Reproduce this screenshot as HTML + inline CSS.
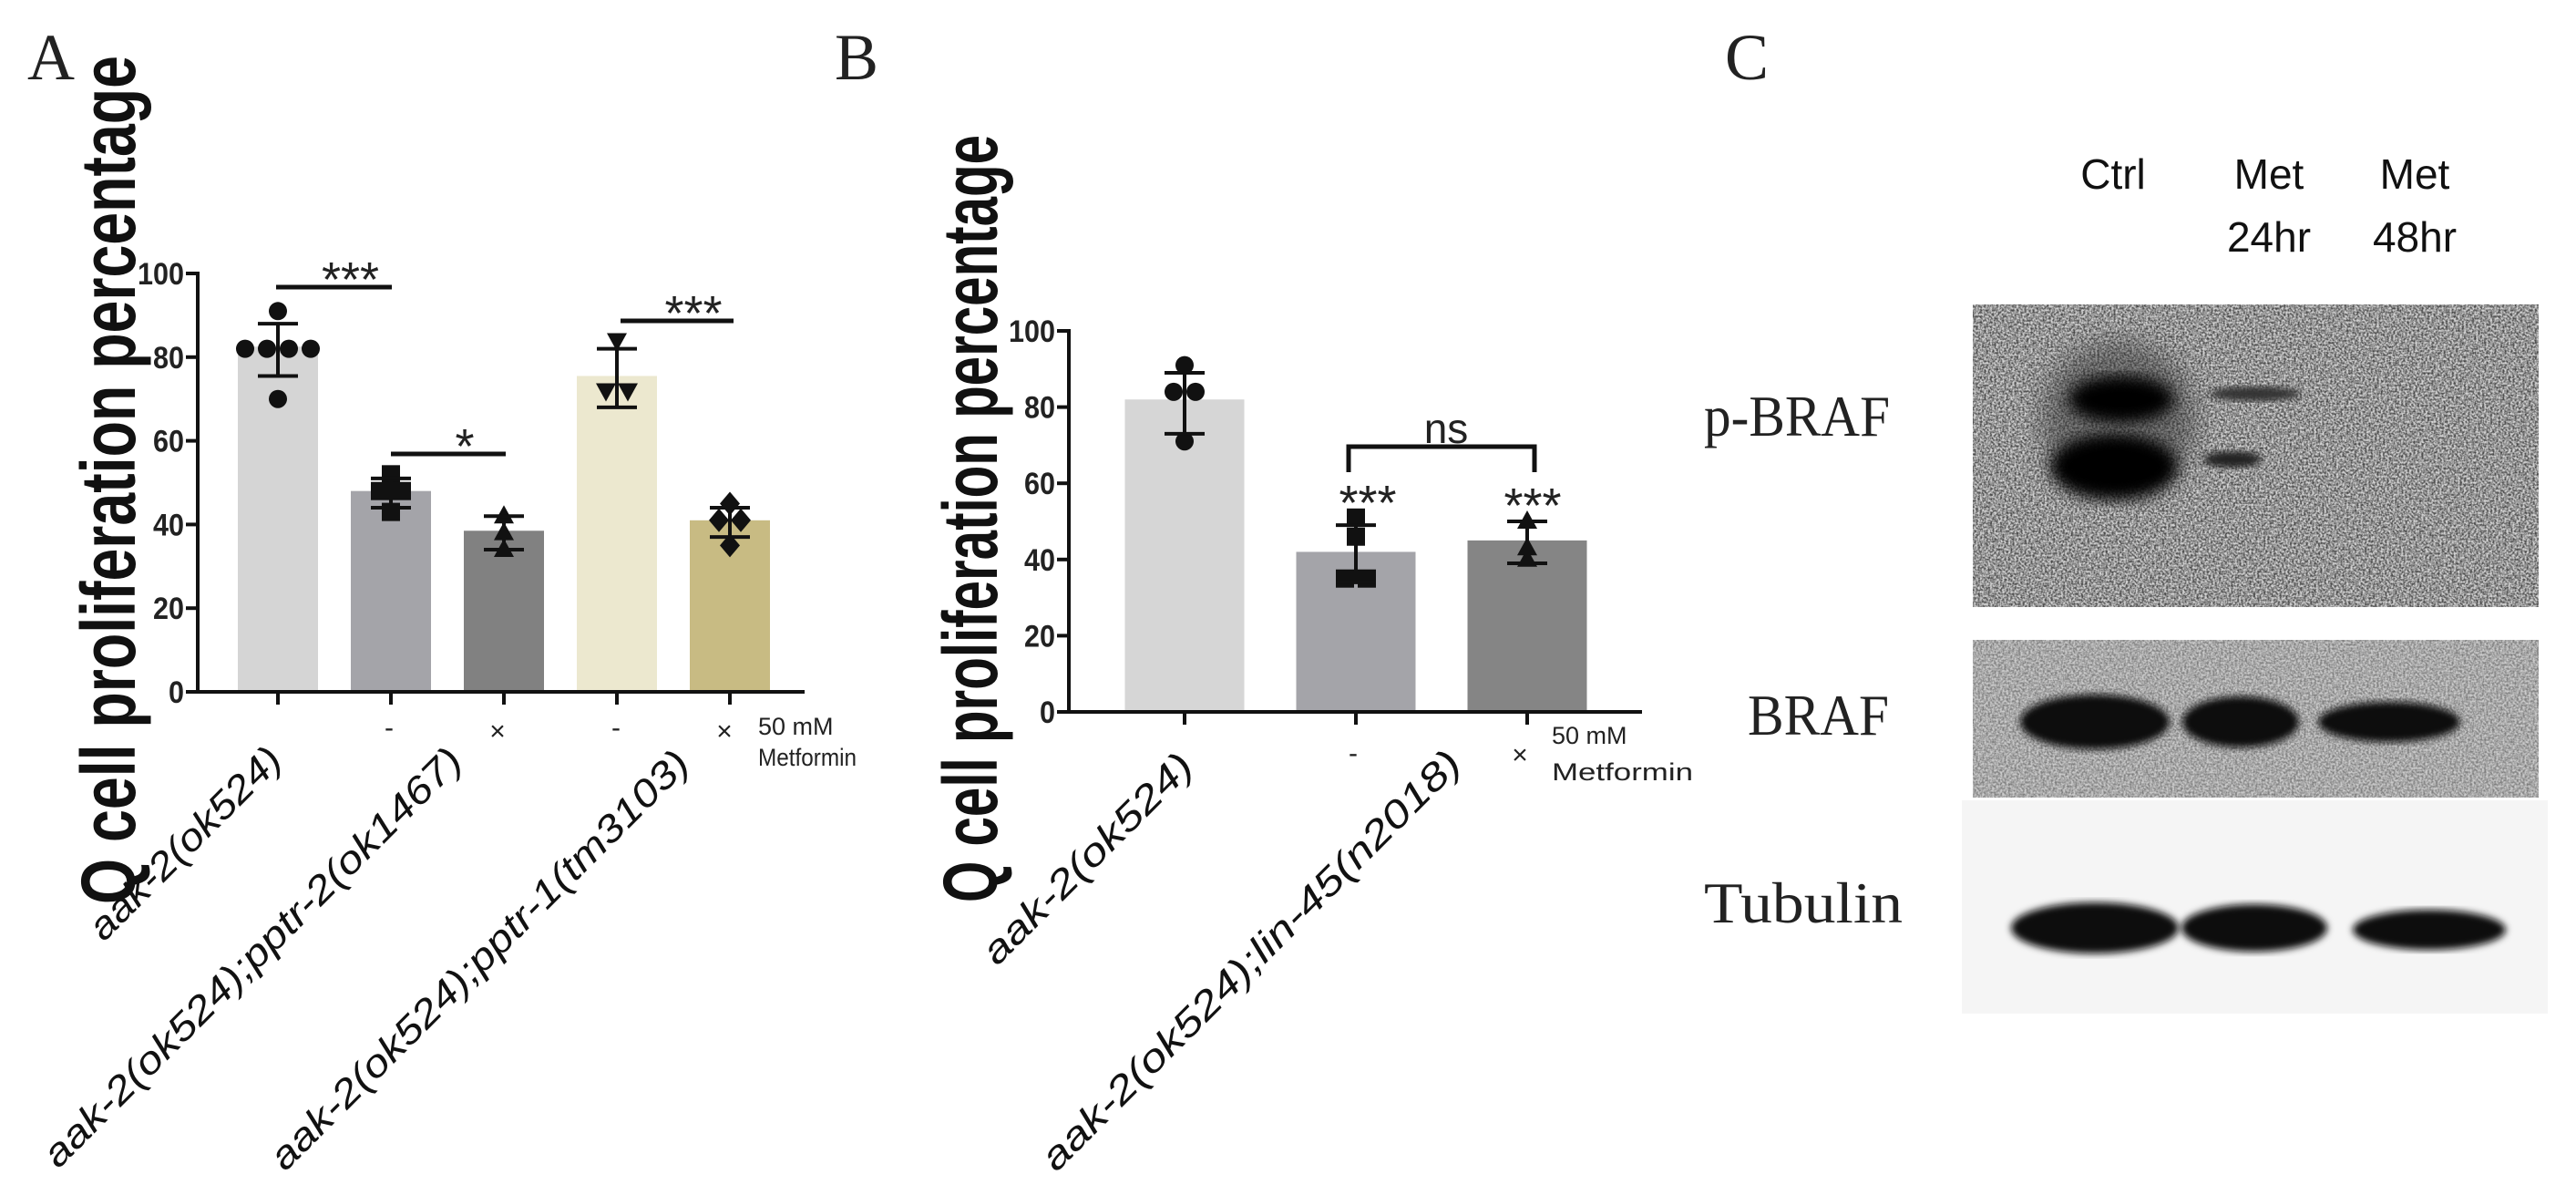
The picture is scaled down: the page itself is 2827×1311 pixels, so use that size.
<!DOCTYPE html>
<html><head><meta charset="utf-8"><style>
html,body{margin:0;padding:0;background:#fff;}
svg{display:block;}
text{font-family:"Liberation Sans",sans-serif;}
.serif{font-family:"Liberation Serif",serif;}
</style></head><body>
<svg id="fig" width="2827" height="1311" viewBox="0 0 2827 1311" xmlns="http://www.w3.org/2000/svg">
<defs>
  <filter id="noiseA" x="0" y="0" width="100%" height="100%" color-interpolation-filters="sRGB">
    <feTurbulence type="fractalNoise" baseFrequency="0.45" numOctaves="2" seed="3" result="t"/>
    <feColorMatrix in="t" type="matrix" values="2.2 0 0 0 -0.55  2.2 0 0 0 -0.55  2.2 0 0 0 -0.55  0 0 0 0 1"/>
  </filter>
  <filter id="blur8"><feGaussianBlur stdDeviation="8"/></filter>
  <filter id="blur4"><feGaussianBlur stdDeviation="4"/></filter>
  <filter id="blur14"><feGaussianBlur stdDeviation="14"/></filter>
</defs>
<g id="panelA"></g>
<g id="panelB"></g>
<g id="panelC">
  <text class="serif" x="1893" y="87" font-size="72" fill="#222">C</text>
  <text x="2319" y="207" font-size="46" text-anchor="middle" fill="#111">Ctrl</text>
  <text x="2490" y="207" font-size="46" text-anchor="middle" fill="#111">Met</text>
  <text x="2490" y="276" font-size="46" text-anchor="middle" fill="#111">24hr</text>
  <text x="2650" y="207" font-size="46" text-anchor="middle" fill="#111">Met</text>
  <text x="2650" y="276" font-size="46" text-anchor="middle" fill="#111">48hr</text>
  <text class="serif" x="1870" y="478" font-size="64" textLength="204" lengthAdjust="spacingAndGlyphs" fill="#222">p-BRAF</text>
  <text class="serif" x="1918" y="806" font-size="64" textLength="155" lengthAdjust="spacingAndGlyphs" fill="#222">BRAF</text>
  <text class="serif" x="1870" y="1012" font-size="64" textLength="218" lengthAdjust="spacingAndGlyphs" fill="#222">Tubulin</text>
  <g>
    <rect x="2165" y="334" width="621" height="332" fill="#a0a0a0"/>
    <rect x="2165" y="334" width="621" height="332" filter="url(#noiseA)" opacity="0.55"/>
    <ellipse cx="2325" cy="460" rx="85" ry="85" fill="#333" opacity="0.5" filter="url(#blur14)"/>
    <ellipse cx="2328" cy="438" rx="58" ry="26" fill="#050505" filter="url(#blur8)"/>
    <ellipse cx="2320" cy="512" rx="70" ry="36" fill="#050505" filter="url(#blur8)"/>
    <ellipse cx="2475" cy="432" rx="50" ry="8" fill="#333" filter="url(#blur4)"/>
    <ellipse cx="2450" cy="504" rx="32" ry="9" fill="#222" filter="url(#blur4)"/>
  </g>
  <g>
    <rect x="2165" y="702" width="621" height="173" fill="#b5b5b5"/>
    <rect x="2165" y="702" width="621" height="173" filter="url(#noiseA)" opacity="0.3"/>
    <ellipse cx="2299" cy="792" rx="82" ry="30" fill="#080808" filter="url(#blur4)"/>
    <ellipse cx="2459" cy="792" rx="64" ry="28" fill="#080808" filter="url(#blur4)"/>
    <ellipse cx="2622" cy="792" rx="78" ry="22" fill="#080808" filter="url(#blur4)"/>
  </g>
  <g>
    <rect x="2153" y="878" width="643" height="234" fill="#f5f5f5"/>
    <ellipse cx="2299" cy="1018" rx="92" ry="28" fill="#0a0a0a" filter="url(#blur4)"/>
    <ellipse cx="2474" cy="1018" rx="80" ry="26" fill="#0a0a0a" filter="url(#blur4)"/>
    <ellipse cx="2666" cy="1020" rx="84" ry="22" fill="#0a0a0a" filter="url(#blur4)"/>
  </g>
</g>
</svg>
<script>
// ---- Panel A data ----
const catsA = ["aak-2(ok524)", "pptr-2 -", "pptr-2 ×", "pptr-1 -", "pptr-1 ×"];
const meansA = [82.5, 48, 38.5, 75.5, 41];
const errHiA = [88, 51, 42, 82, 44];
const errLoA = [75.5, 44, 34, 68, 37];
const pointsA = [[91, 82, 82, 82, 82, 70], [52, 48, 48, 43], [42, 38, 34], [84, 72, 72], [45, 41, 41, 35]];
const markersA = ["circle", "square", "triangle", "tridown", "diamond"];
const colorsA = ["#d5d5d5", "#a4a4a9", "#818181", "#ece8cf", "#c8bb83"];
const ticksA = [0, 20, 40, 60, 80, 100];
// ---- Panel B data ----
const catsB = ["aak-2(ok524)", "lin-45 -", "lin-45 ×"];
const meansB = [82, 42, 45];
const errHiB = [89, 49, 50];
const errLoB = [73, 34, 39];
const pointsB = [[91, 84, 84, 71], [51, 46, 35, 35], [50, 43, 40]];
const markersB = ["circle", "square", "triangle"];
const colorsB = ["#d6d6d6", "#a4a4a9", "#858585"];
const ticksB = [0, 20, 40, 60, 80, 100];

const NS = "http://www.w3.org/2000/svg";
function mk(parent, tag, attrs, txt) {
  const e = document.createElementNS(NS, tag);
  for (const k in attrs) e.setAttribute(k, attrs[k]);
  if (txt !== undefined) e.textContent = txt;
  parent.appendChild(e);
  return e;
}
function marker(g, type, cx, cy, s) {
  let e;
  if (type === "circle") e = mk(g, "circle", {cx: cx, cy: cy, r: s});
  else if (type === "square") e = mk(g, "rect", {x: cx - s, y: cy - s, width: 2 * s, height: 2 * s});
  else if (type === "triangle") e = mk(g, "polygon", {points: `${cx},${cy - s * 1.2} ${cx - s * 1.1},${cy + s * 0.8} ${cx + s * 1.1},${cy + s * 0.8}`});
  else if (type === "tridown") e = mk(g, "polygon", {points: `${cx},${cy + s * 1.2} ${cx - s * 1.1},${cy - s * 0.8} ${cx + s * 1.1},${cy - s * 0.8}`});
  else e = mk(g, "polygon", {points: `${cx},${cy - s * 1.3} ${cx + s * 1.1},${cy} ${cx},${cy + s * 1.3} ${cx - s * 1.1},${cy}`});
  e.setAttribute("fill", "#111");
  
  
}
function drawChart(g, cfg) {
  const y = v => cfg.y0 - (v / 100) * (cfg.y0 - cfg.y100);
  const x = i => cfg.xStart + i * cfg.step;
  cfg.ticks.forEach(t => {
    const l = mk(g, "line", {x1: cfg.ax - 13, x2: cfg.ax, y1: y(t), y2: y(t), stroke: "#111", "stroke-width": 4});
    
    
    const tx = mk(g, "text", {x: cfg.ax - 15, y: y(t) + 12, "font-size": 34, "font-weight": "bold", "text-anchor": "end", fill: "#222", textLength: String(t).length * 17, lengthAdjust: "spacingAndGlyphs"}, String(t));
    
    
  });
  cfg.means.forEach((m, i) => {
    const b = mk(g, "rect", {x: x(i) - cfg.bw / 2, y: y(m), width: cfg.bw, height: cfg.y0 - y(m), fill: cfg.colors[i]});
    
    
  });
  cfg.points.forEach((pts, i) => {
    const used = {};
    pts.forEach(v => { const k = Math.round(v / 3); used[k] = (used[k] || 0) + 1; });
    const seen = {};
    pts.forEach(v => {
      const k = Math.round(v / 3);
      const n = used[k]; const j = seen[k] || 0; seen[k] = j + 1;
      const off = n > 1 ? (j - (n - 1) / 2) * 24 : 0;
      marker(g, cfg.markers[i], x(i) + off, y(v), 10);
    });
  });
  cfg.means.forEach((m, i) => {
    const eg = mk(g, "g", {stroke: "#111", "stroke-width": 4});
    
    
    mk(eg, "line", {x1: x(i), x2: x(i), y1: y(cfg.hi[i]), y2: y(cfg.lo[i])});
    mk(eg, "line", {x1: x(i) - 22, x2: x(i) + 22, y1: y(cfg.hi[i]), y2: y(cfg.hi[i])});
    mk(eg, "line", {x1: x(i) - 22, x2: x(i) + 22, y1: y(cfg.lo[i]), y2: y(cfg.lo[i])});
  });
  const ya = mk(g, "line", {x1: cfg.ax, x2: cfg.ax, y1: y(100) - 2, y2: cfg.y0 + 2, stroke: "#111", "stroke-width": 4});
  
  
  const xa = mk(g, "line", {x1: cfg.ax, x2: cfg.axEnd, y1: cfg.y0, y2: cfg.y0, stroke: "#111", "stroke-width": 4});
  
  
  cfg.means.forEach((m, i) => {
    const t = mk(g, "line", {x1: x(i), x2: x(i), y1: cfg.y0, y2: cfg.y0 + 14, stroke: "#111", "stroke-width": 4});
    
    
  });
  return {x: x, y: y};
}

const gA = document.getElementById("panelA");
const lA = mk(gA, "text", {class: "serif", x: 30, y: 87, "font-size": 72, fill: "#222"}, "A");


const tA = mk(gA, "text", {x: 0, y: 0, "font-size": 84, "font-weight": "bold", fill: "#111", textLength: 931, lengthAdjust: "spacingAndGlyphs", transform: "translate(148,992) rotate(-90)"}, "Q cell proliferation percentage");


drawChart(gA, {y0: 759, y100: 300, ax: 217, axEnd: 883, xStart: 305, step: 124, bw: 88,
  means: meansA, hi: errHiA, lo: errLoA, points: pointsA, markers: markersA, colors: colorsA, ticks: ticksA});
function sigLine(g, x1, x2, yy, label) {
  const sg = mk(g, "g", {});
  
  
  mk(sg, "line", {x1: x1, x2: x2, y1: yy, y2: yy, stroke: "#111", "stroke-width": 5});
  mk(sg, "text", {x: (x1 + x2) / 2 + 18, y: yy + 10, "font-size": 54, "text-anchor": "middle", fill: "#222"}, label);
}
sigLine(gA, 303, 430, 315, "***");
sigLine(gA, 429, 555, 498, "*");
sigLine(gA, 681, 805, 352, "***");
[["-", 427, 808], ["×", 546, 812], ["-", 676, 808], ["×", 795, 812]].forEach(d => {
  const t = mk(gA, "text", {x: d[1], y: d[2], "font-size": 30, "text-anchor": "middle", fill: "#222"}, d[0]);
  
  
});
const mA1 = mk(gA, "text", {x: 832, y: 806, "font-size": 27, fill: "#222"}, "50 mM");


const mA2 = mk(gA, "text", {x: 832, y: 840, "font-size": 27, fill: "#222", textLength: 108, lengthAdjust: "spacingAndGlyphs"}, "Metformin");


const xLabelsA = [["aak-2(ok524)", 312, 822, 280], ["aak-2(ok524);pptr-2(ok1467)", 510, 823, 631], ["aak-2(ok524);pptr-1(tm3103)", 759, 826, 631]];
xLabelsA.forEach(d => {
  const t = mk(gA, "text", {x: 0, y: 0, "font-size": 42, "font-style": "italic", "text-anchor": "end", fill: "#111", textLength: d[3], lengthAdjust: "spacingAndGlyphs", transform: `translate(${d[1]},${d[2] + 14}) rotate(-45)`}, d[0]);
  
  
});

const gB = document.getElementById("panelB");
const lB = mk(gB, "text", {class: "serif", x: 916, y: 87, "font-size": 72, fill: "#222"}, "B");


const tB = mk(gB, "text", {x: 0, y: 0, "font-size": 84, "font-weight": "bold", fill: "#111", textLength: 842, lengthAdjust: "spacingAndGlyphs", transform: "translate(1094,990) rotate(-90)"}, "Q cell proliferation percentage");


drawChart(gB, {y0: 781, y100: 363, ax: 1173, axEnd: 1802, xStart: 1300, step: 188, bw: 131,
  means: meansB, hi: errHiB, lo: errLoB, points: pointsB, markers: markersB, colors: colorsB, ticks: ticksB});
const br = mk(gB, "path", {d: "M1480,518 V490 H1684 V518", fill: "none", stroke: "#111", "stroke-width": 5});


const ns = mk(gB, "text", {x: 1587, y: 486, "font-size": 46, "text-anchor": "middle", fill: "#222"}, "ns");


[[1501, 570], [1682, 573]].forEach(d => {
  const t = mk(gB, "text", {x: d[0], y: d[1], "font-size": 54, "text-anchor": "middle", fill: "#222"}, "***");
  
  
});
[["-", 1485, 836], ["×", 1668, 838]].forEach(d => {
  const t = mk(gB, "text", {x: d[1], y: d[2], "font-size": 30, "text-anchor": "middle", fill: "#222"}, d[0]);
  
  
});
const mB1 = mk(gB, "text", {x: 1703, y: 816, "font-size": 27, fill: "#222"}, "50 mM");


const mB2 = mk(gB, "text", {x: 1703, y: 856, "font-size": 27, fill: "#222", textLength: 155, lengthAdjust: "spacingAndGlyphs"}, "Metformin");


const xLabelsB = [["aak-2(ok524)", 1312, 829, 308], ["aak-2(ok524);lin-45(n2018)", 1606, 826, 632]];
xLabelsB.forEach(d => {
  const t = mk(gB, "text", {x: 0, y: 0, "font-size": 42, "font-style": "italic", "text-anchor": "end", fill: "#111", textLength: d[3], lengthAdjust: "spacingAndGlyphs", transform: `translate(${d[1]},${d[2] + 14}) rotate(-45)`}, d[0]);
  
  
});
</script>
</body></html>
